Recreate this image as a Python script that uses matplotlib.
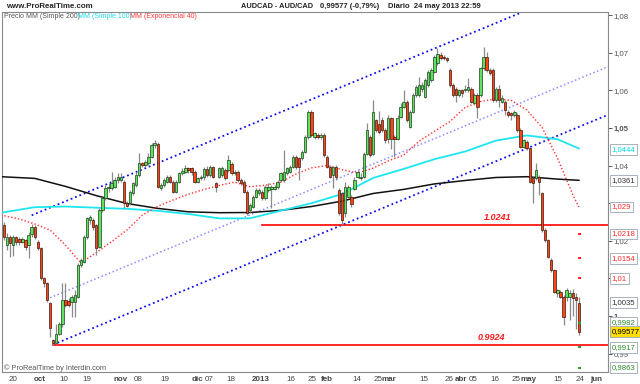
import numpy as np
import matplotlib
matplotlib.use("Agg")
import matplotlib.pyplot as plt

plt.rcParams['font.family'] = ['Liberation Sans', 'DejaVu Sans']

# velas diarias AUDCAD
opens = [1.0242, 1.0189, 1.0211, 1.0189, 1.0209, 1.0204, 1.0198, 1.0202, 1.0189, 1.0218,
         1.0236, 1.0198, 1.0180, 1.0100, 1.0087, 1.0034, 0.9936, 0.9927, 0.9952, 0.9980,
         1.0042, 1.0041, 1.0038, 1.0038, 1.0051, 1.0136, 1.0144, 1.0211, 1.0255, 1.0255,
         1.0242, 1.0184, 1.0282, 1.0313, 1.0340, 1.0340, 1.0344, 1.0362, 1.0362, 1.0357,
         1.0301, 1.0300, 1.0326, 1.0348, 1.0375, 1.0406, 1.0402, 1.0406, 1.0424, 1.0455,
         1.0457, 1.0340, 1.0348, 1.0357, 1.0371, 1.0357, 1.0331, 1.0357, 1.0379, 1.0384,
         1.0393, 1.0393, 1.0384, 1.0357, 1.0366,
         1.0370, 1.0390, 1.0375, 1.0397, 1.0353, 1.0370, 1.0375, 1.0388, 1.0388, 1.0404,
         1.0379, 1.0384, 1.0362, 1.0357, 1.0330, 1.0282, 1.0291, 1.0317, 1.0326, 1.0330,
         1.0313, 1.0335, 1.0339, 1.0339, 1.0344, 1.0362, 1.0362, 1.0379, 1.0384, 1.0397,
         1.0424, 1.0419, 1.0419, 1.0437, 1.0477, 1.0543, 1.0477, 1.0481, 1.0477, 1.0481,
         1.0424, 1.0397, 1.0375, 1.0397, 1.0335, 1.0326, 1.0273, 1.0317, 1.0317, 1.0339,
         1.0370, 1.0366, 1.0370, 1.0432, 1.0477, 1.0432, 1.0521, 1.0510,
         1.0521, 1.0495, 1.0472, 1.0526, 1.0477, 1.0472, 1.0530, 1.0557, 1.0570, 1.0503,
         1.0543, 1.0588, 1.0588, 1.0605, 1.0583, 1.0614, 1.0628, 1.0650, 1.0672, 1.0694,
         1.0690, 1.0685, 1.0654, 1.0614, 1.0605, 1.0588, 1.0601, 1.0601, 1.0601, 1.0605,
         1.0566, 1.0588, 1.0588, 1.0659, 1.0690, 1.0654, 1.0654, 1.0574, 1.0605, 1.0570,
         1.0570, 1.0543, 1.0539, 1.0534, 1.0534, 1.0495, 1.0450, 1.0464, 1.0446, 1.0366,
         1.0366, 1.0370, 1.0326, 1.0228, 1.0202, 1.0149, 1.0122, 1.0060, 1.0064, 1.0051,
         1.0051, 1.0051, 1.0060, 1.0051, 1.0034]
highs = [1.0251, 1.0220, 1.0215, 1.0215, 1.0213, 1.0211, 1.0211, 1.0206, 1.0224, 1.0246,
         1.0242, 1.0202, 1.0184, 1.0104, 1.0091, 1.0038, 0.9940, 0.9980, 0.9985, 1.0087,
         1.0087, 1.0047, 1.0056, 1.0069, 1.0140, 1.0153, 1.0215, 1.0264, 1.0269, 1.0260,
         1.0246, 1.0286, 1.0317, 1.0348, 1.0353, 1.0384, 1.0371, 1.0379, 1.0379, 1.0362,
         1.0307, 1.0335, 1.0357, 1.0384, 1.0433, 1.0410, 1.0415, 1.0433, 1.0459, 1.0468,
         1.0464, 1.0353, 1.0366, 1.0375, 1.0375, 1.0362, 1.0362, 1.0384, 1.0393, 1.0402,
         1.0397, 1.0397, 1.0388, 1.0371, 1.0375,
         1.0397, 1.0400, 1.0402, 1.0400, 1.0357, 1.0397, 1.0400, 1.0393, 1.0428, 1.0410,
         1.0388, 1.0388, 1.0366, 1.0362, 1.0335, 1.0300, 1.0322, 1.0340, 1.0340, 1.0335,
         1.0348, 1.0353, 1.0348, 1.0348, 1.0362, 1.0384, 1.0441, 1.0397, 1.0402, 1.0428,
         1.0428, 1.0424, 1.0441, 1.0481, 1.0548, 1.0548, 1.0490, 1.0486, 1.0486, 1.0486,
         1.0428, 1.0402, 1.0400, 1.0402, 1.0340, 1.0330, 1.0357, 1.0348, 1.0322, 1.0370,
         1.0388, 1.0379, 1.0437, 1.0512, 1.0481, 1.0574, 1.0525, 1.0545,
         1.0530, 1.0500, 1.0535, 1.0530, 1.0481, 1.0535, 1.0566, 1.0600, 1.0575, 1.0548,
         1.0592, 1.0614, 1.0636, 1.0623, 1.0632, 1.0654, 1.0659, 1.0694, 1.0714, 1.0701,
         1.0694, 1.0690, 1.0659, 1.0619, 1.0610, 1.0605, 1.0605, 1.0614, 1.0632, 1.0610,
         1.0592, 1.0592, 1.0663, 1.0716, 1.0703, 1.0659, 1.0659, 1.0610, 1.0614, 1.0588,
         1.0574, 1.0548, 1.0543, 1.0548, 1.0539, 1.0499, 1.0472, 1.0468, 1.0450, 1.0370,
         1.0406, 1.0375, 1.0330, 1.0233, 1.0206, 1.0153, 1.0126, 1.0073, 1.0069, 1.0056,
         1.0075, 1.0069, 1.0071, 1.0060, 1.0050]
lows = [1.0202, 1.0175, 1.0158, 1.0159, 1.0189, 1.0189, 1.0193, 1.0175, 1.0153, 1.0211,
        1.0206, 1.0175, 1.0096, 1.0078, 1.0038, 0.9945, 0.9924, 0.9925, 0.9949, 0.9971,
        1.0025, 1.0025, 0.9998, 0.9998, 1.0047, 1.0131, 1.0140, 1.0206, 1.0246, 1.0229,
        1.0162, 1.0180, 1.0277, 1.0308, 1.0331, 1.0335, 1.0340, 1.0353, 1.0357, 1.0286,
        1.0289, 1.0295, 1.0322, 1.0344, 1.0370, 1.0397, 1.0397, 1.0402, 1.0419, 1.0446,
        1.0340, 1.0335, 1.0344, 1.0353, 1.0353, 1.0326, 1.0326, 1.0353, 1.0375, 1.0379,
        1.0379, 1.0375, 1.0353, 1.0353, 1.0362,
        1.0362, 1.0370, 1.0370, 1.0366, 1.0330, 1.0366, 1.0370, 1.0362, 1.0384, 1.0375,
        1.0375, 1.0357, 1.0348, 1.0326, 1.0268, 1.0277, 1.0286, 1.0313, 1.0322, 1.0308,
        1.0308, 1.0331, 1.0286, 1.0335, 1.0339, 1.0357, 1.0357, 1.0375, 1.0379, 1.0393,
        1.0390, 1.0362, 1.0415, 1.0433, 1.0472, 1.0477, 1.0472, 1.0472, 1.0472, 1.0424,
        1.0393, 1.0366, 1.0340, 1.0362, 1.0268, 1.0242, 1.0264, 1.0313, 1.0290, 1.0335,
        1.0366, 1.0362, 1.0366, 1.0428, 1.0424, 1.0428, 1.0490, 1.0485,
        1.0490, 1.0460, 1.0460, 1.0445, 1.0424, 1.0468, 1.0526, 1.0552, 1.0517, 1.0499,
        1.0539, 1.0583, 1.0583, 1.0597, 1.0579, 1.0610, 1.0623, 1.0645, 1.0668, 1.0681,
        1.0681, 1.0676, 1.0610, 1.0583, 1.0570, 1.0583, 1.0583, 1.0597, 1.0597, 1.0566,
        1.0561, 1.0526, 1.0583, 1.0654, 1.0650, 1.0641, 1.0570, 1.0570, 1.0557, 1.0566,
        1.0535, 1.0530, 1.0521, 1.0530, 1.0490, 1.0446, 1.0446, 1.0441, 1.0353, 1.0300,
        1.0362, 1.0322, 1.0224, 1.0197, 1.0153, 1.0118, 1.0060, 1.0051, 1.0047, 0.9976,
        1.0040, 0.9990, 1.0000, 0.9965, 0.9950]
closes = [1.0211, 1.0211, 1.0193, 1.0209, 1.0198, 1.0198, 1.0204, 1.0184, 1.0215, 1.0238,
          1.0211, 1.0180, 1.0100, 1.0087, 1.0042, 0.9967, 0.9927, 0.9952, 0.9980, 1.0042,
          1.0029, 1.0029, 1.0051, 1.0056, 1.0136, 1.0149, 1.0211, 1.0260, 1.0262, 1.0238,
          1.0180, 1.0282, 1.0313, 1.0340, 1.0344, 1.0353, 1.0362, 1.0371, 1.0371, 1.0300,
          1.0293, 1.0331, 1.0353, 1.0375, 1.0406, 1.0402, 1.0410, 1.0424, 1.0455, 1.0459,
          1.0344, 1.0348, 1.0362, 1.0371, 1.0357, 1.0331, 1.0357, 1.0379, 1.0386, 1.0393,
          1.0388, 1.0384, 1.0357, 1.0366, 1.0371,
          1.0390, 1.0375, 1.0397, 1.0370, 1.0344, 1.0393, 1.0393, 1.0366, 1.0415, 1.0381,
          1.0384, 1.0362, 1.0353, 1.0330, 1.0273, 1.0295, 1.0317, 1.0335, 1.0335, 1.0313,
          1.0344, 1.0344, 1.0344, 1.0344, 1.0357, 1.0379, 1.0384, 1.0393, 1.0397, 1.0424,
          1.0395, 1.0397, 1.0437, 1.0477, 1.0543, 1.0481, 1.0486, 1.0477, 1.0481, 1.0428,
          1.0397, 1.0370, 1.0395, 1.0370, 1.0273, 1.0255, 1.0344, 1.0344, 1.0299, 1.0362,
          1.0384, 1.0370, 1.0432, 1.0495, 1.0428, 1.0543, 1.0495, 1.0490,
          1.0495, 1.0468, 1.0526, 1.0472, 1.0472, 1.0526, 1.0557, 1.0570, 1.0521, 1.0543,
          1.0588, 1.0610, 1.0614, 1.0614, 1.0628, 1.0650, 1.0654, 1.0690, 1.0697, 1.0685,
          1.0685, 1.0681, 1.0614, 1.0588, 1.0588, 1.0601, 1.0592, 1.0605, 1.0610, 1.0570,
          1.0588, 1.0557, 1.0659, 1.0690, 1.0654, 1.0645, 1.0574, 1.0605, 1.0574, 1.0579,
          1.0548, 1.0534, 1.0534, 1.0543, 1.0495, 1.0450, 1.0468, 1.0446, 1.0357, 1.0353,
          1.0388, 1.0357, 1.0228, 1.0202, 1.0157, 1.0122, 1.0064, 1.0069, 1.0051, 0.9998,
          1.0069, 1.0060, 1.0047, 1.0043, 0.99577]

# medias moviles (muestreadas cada pocas velas)
sma_bars = [-1, 10, 20, 30, 40, 50, 60, 70, 80, 90, 100, 110, 120, 130, 140, 150, 160, 170, 180, 187]
sma200 = [1.03705, 1.03660, 1.03447, 1.03202, 1.02992, 1.02862, 1.02771, 1.02747, 1.02753, 1.02809,
          1.02912, 1.03056, 1.03258, 1.03367, 1.03513, 1.03604, 1.03684, 1.03705, 1.03641, 1.03609]
sma100 = [1.02747, 1.02894, 1.02912, 1.02880, 1.02851, 1.02798, 1.02713, 1.02596, 1.02598, 1.02800,
          1.03000, 1.03245, 1.03670, 1.03912, 1.04170, 1.04375, 1.04665, 1.04803, 1.04702, 1.04455]
ema_bars = [-1, 5, 10, 15, 20, 25, 30, 35, 40, 45, 50, 55, 60, 65, 70, 75, 80, 85, 90, 95,
            100, 105, 110, 115, 120, 125, 130, 135, 140, 145, 150, 155, 160, 165, 170, 175,
            180, 185, 187]
ema40 = [1.02686, 1.02580, 1.02447, 1.02287, 1.01883, 1.01410, 1.01684, 1.01979, 1.02287, 1.02684,
         1.02918, 1.03085, 1.03239, 1.03364, 1.03473, 1.03559, 1.03439, 1.03479, 1.03559, 1.03777,
         1.03939, 1.04003, 1.03891, 1.03803, 1.03931, 1.04125, 1.04279, 1.04649, 1.04910, 1.05170,
         1.05548, 1.05707, 1.05774, 1.05734, 1.05484, 1.05019, 1.04205, 1.03229, 1.02899]

# canal alcista y soportes
channel_low = 0.9924
channel_slope = 0.0003386
channel_width = 0.03676
channel_mid = 0.0128
support_hi = 1.0241
support_lo = 0.9924

# niveles del eje derecho
level_vals = [1.0444, 1.0361, 1.029, 1.0218, 1.0154, 1.01, 1.0035, 0.9982, 0.99577, 0.9917, 0.9863]
level_txt = ['1,0444', '1,0361', '1,029', '1,0218', '1,0154', '1,01', '1,0035', '0,9982',
             '0,99577', '0,9917', '0,9863']
level_col = ['#00d8e8', '#333333', '#ff2a2a', '#ff2a2a', '#ff2a2a', '#ff2a2a', '#333333',
             '#2e8b2e', '#000000', '#2e8b2e', '#2e8b2e']
pivots = [1.0218, 1.0154, 1.01, 0.9982, 0.9917, 0.9863]
pivot_col = ['#ff2a2a', '#ff2a2a', '#ff2a2a', '#2e9e2e', '#2e9e2e', '#2e9e2e']

# 1,01 y 1,03 quedan tapados por las etiquetas de nivel
yt = [0.99, 1.0, 1.01, 1.02, 1.03, 1.04, 1.05, 1.06, 1.07, 1.08]
yt_lab = ['0,99', '1', '', '1,02', '', '1,04', '1,05', '1,06', '1,07', '1,08']

tick_pos = [2.8, 11.5, 19.5, 27.1, 38.0, 43.7, 52.4, 63.0, 66.7, 73.8, 83.6, 93.3, 100.3,
            104.9, 114.7, 121.6, 125.2, 136.6, 144.7, 148.5, 152.5, 159.7, 166.5, 170.7,
            180.2, 187.3, 192.5]
tick_lab = ['20', 'oct', '10', '19', 'nov', '08', '19', 'dic', '07', '18', '2013', '16', '25',
            'feb', '14', '25', 'mar', '15', '26', 'abr', '05', '16', '25', 'may', '15', '24', 'jun']
months = {'oct', 'nov', 'dic', '2013', 'feb', 'mar', 'abr', 'may', 'jun'}

fig = plt.figure(figsize=(6.4, 3.84), dpi=100)
ax = fig.add_axes([2 / 640, 12 / 384, 605.5 / 640, 360 / 384])

n = len(closes)
x = np.arange(n)
o = np.array(opens)
c = np.array(closes)
up = c >= o

# canal
xl = np.array([9, 200])
ax.plot(xl, channel_low + channel_slope * (xl - 16) + channel_width, color='#1010ee',
        lw=1.3, ls=(0, (1, 1.6)), zorder=2)
xl = np.array([16, 200])
ax.plot(xl, channel_low + channel_slope * (xl - 16), color='#1010ee', lw=1.3,
        ls=(0, (1, 1.6)), zorder=2)
xl = np.array([15, 200])
ax.plot(xl, channel_low + channel_slope * (xl - 16) + channel_mid, color='#8c8cff',
        lw=1.1, ls=(0, (1, 1.6)), zorder=2)

ax.plot([84, 200], [support_hi, support_hi], color='#ff0000', lw=1.2, zorder=2)
ax.plot([16, 200], [support_lo, support_lo], color='#ff0000', lw=1.2, zorder=2)

# medias
ax.plot(sma_bars, sma200, color='#111111', lw=1.1, zorder=3)
ax.plot(sma_bars, sma100, color='#1ee6f0', lw=1.3, zorder=3)
ax.plot(ema_bars, ema40, color='#ff3030', lw=1.0, ls=(0, (1, 1.5)), zorder=3)

# velas
ax.vlines(x, lows, highs, color='#8a8a8a', lw=0.9, zorder=4)
body = np.maximum(np.abs(c - o), 0.00012)
ax.bar(x[up], body[up], bottom=np.minimum(o, c)[up], width=0.78, color='#5fe05f',
       edgecolor='#1f3f1f', linewidth=0.5, zorder=5)
ax.bar(x[~up], body[~up], bottom=np.minimum(o, c)[~up], width=0.78, color='#ff4416',
       edgecolor='#3a1a10', linewidth=0.5, zorder=5)

ax.hlines(pivots, n - 1.4, n - 0.4, colors=pivot_col, lw=1.5, zorder=6)

ax.text(160.7, support_hi + 0.0008, '1.0241', color='#ff1a1a', fontsize=6.5,
        fontweight='bold', style='italic', ha='center', va='bottom')
ax.text(158.4, support_lo + 0.0008, '0.9924', color='#ff1a1a', fontsize=6.5,
        fontweight='bold', style='italic', ha='center', va='bottom')

ax.set_xlim(-0.65, 196.3)
ax.set_ylim(0.98511, 1.08085)

ax.yaxis.tick_right()
ax.set_yticks(yt)
ax.set_yticklabels(yt_lab)
for t in ax.get_yticklabels():
    if t.get_text() in ('1', '1,05'):
        t.set_fontweight('bold')
        t.set_color('#111111')
ax.tick_params(axis='y', length=3, width=0.7, colors='#555555', labelsize=5.6, pad=1.5)

ax.set_xticks(tick_pos)
ax.set_xticklabels(tick_lab)
for t in ax.get_xticklabels():
    if t.get_text() in months:
        t.set_fontweight('bold')
        t.set_color('#222222')
ax.tick_params(axis='x', length=0, colors='#444444', labelsize=5.8, pad=3)

for s in ax.spines.values():
    s.set_color('#8a8a8a')
    s.set_linewidth(0.8)

tr = ax.get_yaxis_transform()
for v, txt, col in zip(level_vals, level_txt, level_col):
    fc = '#ffdd00' if txt == '0,99577' else 'white'
    ax.text(1.0068, v, txt, transform=tr, color=col, fontsize=5.6, ha='left', va='center',
            clip_on=False, zorder=10,
            bbox=dict(boxstyle='square,pad=0.25', fc=fc, ec='#a9b2ba', lw=0.7))

# cabecera
fig.text(6 / 640, 1 - 6 / 384, 'www.ProRealTime.com', fontsize=5.7, fontweight='bold',
         color='#222222', va='center')
fig.text(313 / 640, 1 - 6 / 384, 'AUDCAD - AUD/CAD', fontsize=5.3, fontweight='bold',
         color='#222222', va='center', ha='right')
fig.text(320 / 640, 1 - 6 / 384, '0,99577 (-0,79%)', fontsize=5.5, fontweight='bold',
         color='#222222', va='center')
fig.text(388 / 640, 1 - 6 / 384, 'Diario  24 may 2013 22:59', fontsize=5.5, fontweight='bold',
         color='#222222', va='center')

fig.text(4 / 640, 1 - 16 / 384, 'Precio MM (Simple 200)', fontsize=5.0, color='#555555', va='center')
fig.text(78 / 640, 1 - 16 / 384, 'MM (Simple 100)', fontsize=5.0, color='#20d8ee', va='center')
fig.text(130 / 640, 1 - 16 / 384, 'MM (Exponencial 40)', fontsize=5.0, color='#ff3a3a', va='center')
fig.text(4 / 640, 1 - 368 / 384, '\u00a9 ProRealTime by Interdin.com', fontsize=5.3,
         color='#555555', va='center')

fig.savefig('out.png', dpi=100)
